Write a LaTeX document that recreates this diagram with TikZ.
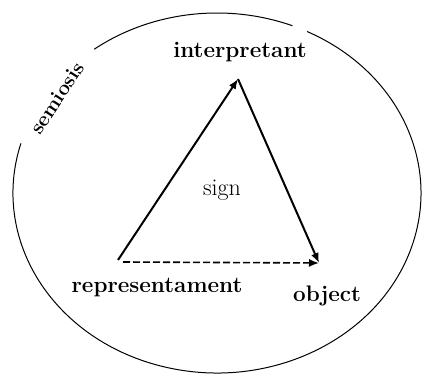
\documentclass[tikz,border=0pt]{standalone}
\usetikzlibrary{arrows.meta}
\tikzset{
  label text/.style={font=\fontsize{22.5}{26}\selectfont\bfseries, inner sep=1pt},
  tri edge/.style={line width=2pt, -{Latex[length=10pt,width=8pt]}},
}
\begin{document}
\begin{tikzpicture}[x=1pt,y=1pt]
\useasboundingbox (0,0) rectangle (423,374);
% outer semiosis loop, open at two places
\draw[line width=1pt] (217,181) ++(68.3:204 and 180) arc[start angle=68.3, end angle=127, x radius=204, y radius=180];
\draw[line width=1pt] (217,181) ++(164:204 and 180) arc[start angle=164, end angle=423.8, x radius=204, y radius=180];
% triangle corners
\coordinate (rep) at (118,114);
\coordinate (int) at (238,295);
\coordinate (obj) at (319,111);
\coordinate (repd) at (123,112);
\draw[tri edge] (rep) -- (int);
\draw[tri edge] (int) -- (obj);
\draw[tri edge, line width=1.6pt, dash pattern=on 7pt off 3pt] (repd) -- (obj);
% labels
\node[label text] (interp) at (240,322) {interpretant};
\node[label text] (repr) at (157,86) {representament};
\node[label text] (object) at (327,78) {object};
\node[font=\fontsize{24}{26}\selectfont] (sign) at (222,184) {sign};
\node[font=\fontsize{20.5}{22}\selectfont\bfseries, inner sep=0pt, rotate=57] (semio) at (57,276) {semiosis};
\end{tikzpicture}
\end{document}
